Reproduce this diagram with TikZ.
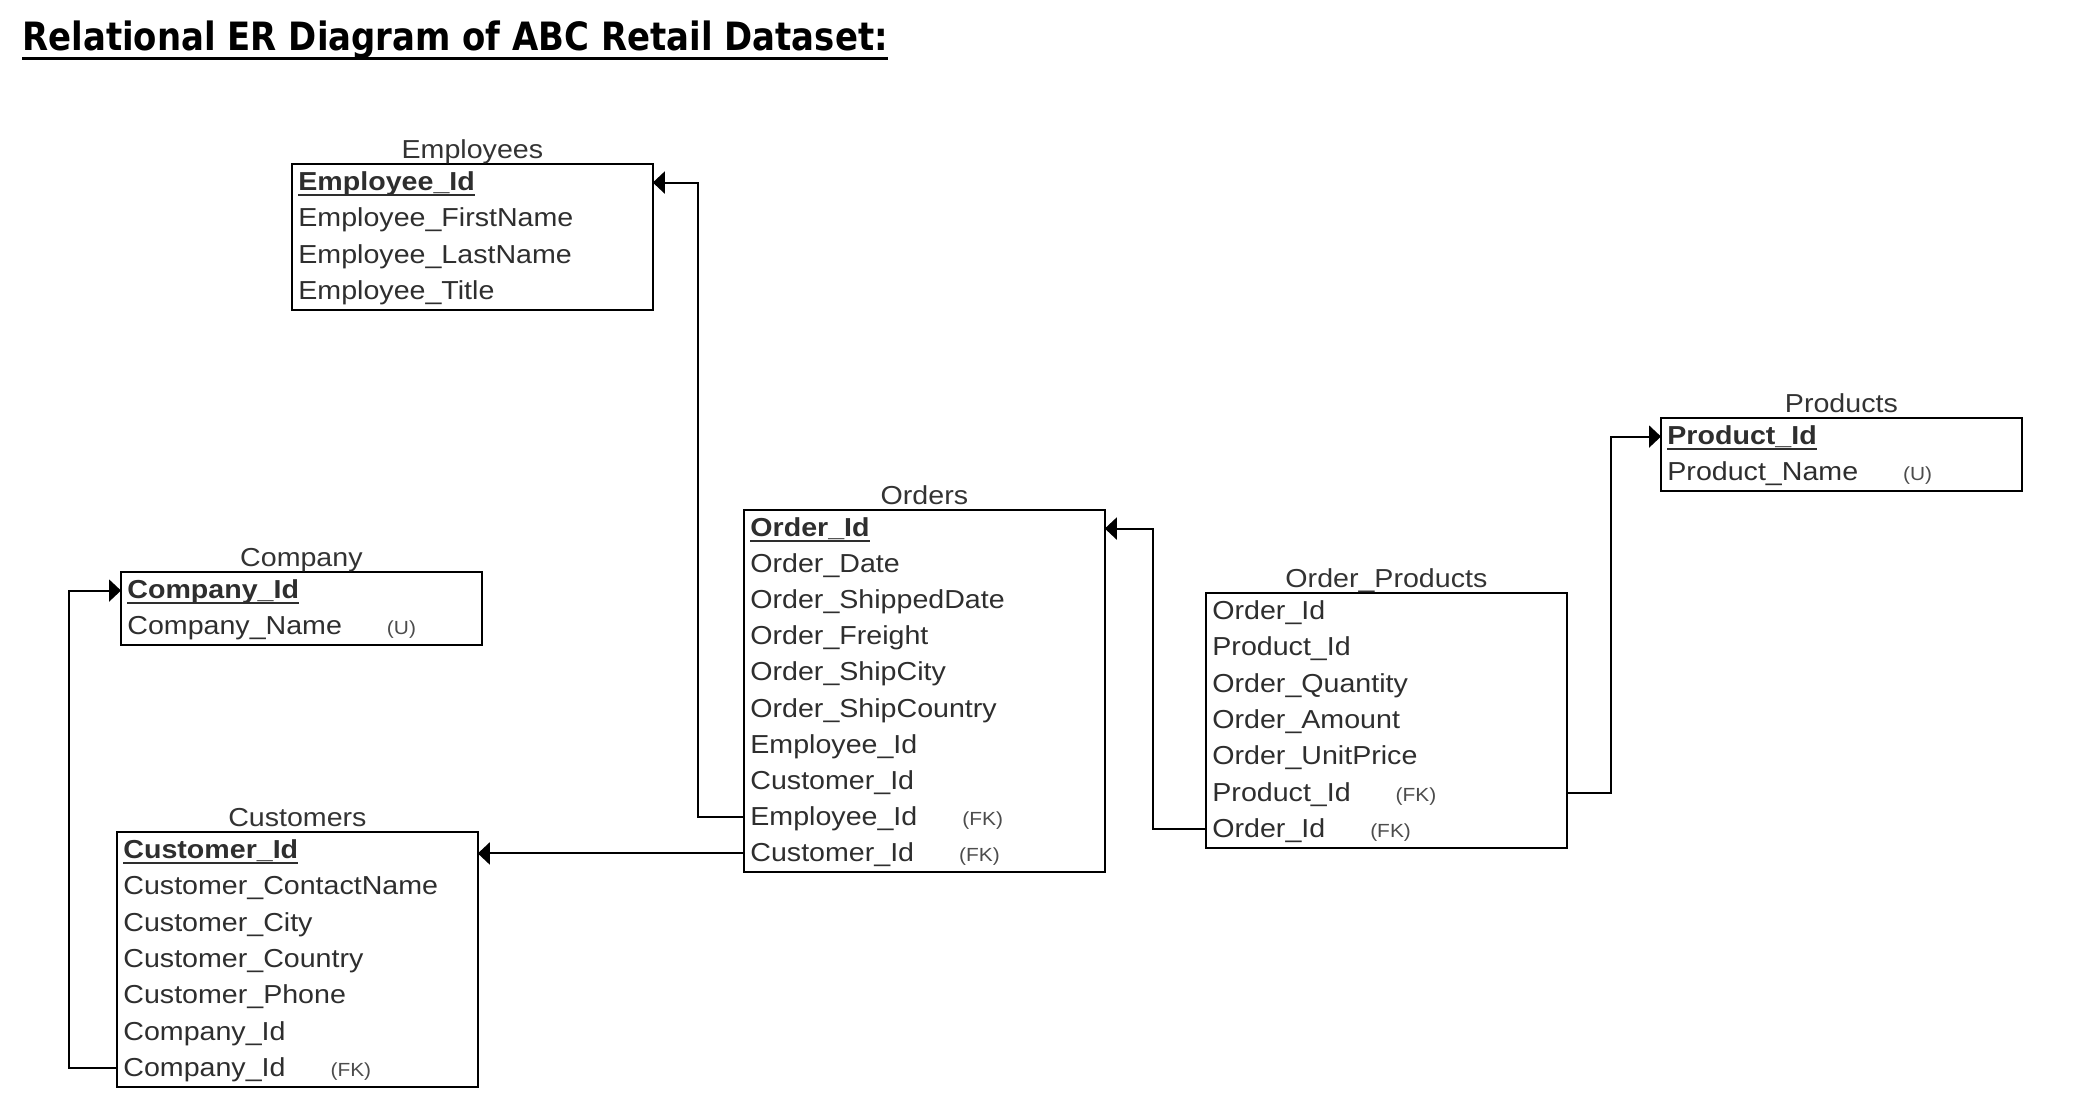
\documentclass[tikz,border=0pt]{standalone}
\usepackage{fontspec}
\setmainfont{Liberation Sans}[FakeStretch=1.1]
\newfontfamily\headfont{DejaVu Sans}[FakeStretch=0.87]
\usetikzlibrary{arrows.meta, positioning}

% primary key: bold and underlined
\newcommand\keyfield[1]{\sbox0{\bfseries #1}\rlap{\rule[-2.6pt]{\wd0}{0.9pt}}\usebox0}
% field with a small (FK) / (U) tag
\newcommand\tagged[2]{#1\hspace{22.5pt}{\fontsize{9.5}{11}\selectfont\color{black!70}(#2)}}

\begin{document}
\begin{tikzpicture}[
  x=0.5pt, y=-0.5pt,
  row/.style={anchor=north west, text width=174pt, inner xsep=3pt, inner ysep=0pt,
    minimum height=18.15pt, text height=10.5pt, text depth=2.5pt, align=left,
    font=\fontsize{13}{15}\selectfont, text=black!82},
  tbl/.style={draw, line width=1pt},
  tabtitle/.style={font=\fontsize{13}{15}\selectfont, text=black!80, inner sep=0pt},
  link/.style={-{Triangle[length=6pt, width=11pt]}, line width=1pt}
]
\useasboundingbox (0,0) rectangle (2078,1108);

% Title
\node (title) [anchor=base west, inner sep=0pt, font=\headfont\bfseries\fontsize{19.5}{22}\selectfont] at (22,50)
  {Relational ER Diagram of ABC Retail Dataset:};
\draw [line width=1.6pt] ([yshift=-4.2pt]title.base west) -- ([yshift=-4.2pt]title.base east);

% Employees
\foreach \f [count=\i] in {\keyfield{Employee\_Id}, Employee\_FirstName, Employee\_LastName, Employee\_Title}
  \node (emp\i) [row] at (292, {164+(\i-1)*36.3}) {\f};
\draw [tbl] (emp1.north west) rectangle (emp4.south east);
\node (empT) [tabtitle, above=3pt of emp1.north, anchor=base] {Employees};

% Company
\foreach \f [count=\i] in {\keyfield{Company\_Id}, \tagged{Company\_Name}{U}}
  \node (com\i) [row] at (121, {572+(\i-1)*36.3}) {\f};
\draw [tbl] (com1.north west) rectangle (com2.south east);
\node (comT) [tabtitle, above=3pt of com1.north, anchor=base] {Company};

% Customers
\foreach \f [count=\i] in {\keyfield{Customer\_Id}, Customer\_ContactName, Customer\_City, Customer\_Country,
    Customer\_Phone, Company\_Id, \tagged{Company\_Id}{FK}}
  \node (cus\i) [row] at (117, {832+(\i-1)*36.3}) {\f};
\draw [tbl] (cus1.north west) rectangle (cus7.south east);
\node (cusT) [tabtitle, above=3pt of cus1.north, anchor=base] {Customers};

% Orders
\foreach \f [count=\i] in {\keyfield{Order\_Id}, Order\_Date, Order\_ShippedDate, Order\_Freight, Order\_ShipCity,
    Order\_ShipCountry, Employee\_Id, Customer\_Id, \tagged{Employee\_Id}{FK}, \tagged{Customer\_Id}{FK}}
  \node (ord\i) [row] at (744, {510+(\i-1)*36.1}) {\f};
\draw [tbl] (ord1.north west) rectangle (ord10.south east);
\node (ordT) [tabtitle, above=3pt of ord1.north, anchor=base] {Orders};

% Order_Products
\foreach \f [count=\i] in {Order\_Id, Product\_Id, Order\_Quantity, Order\_Amount, Order\_UnitPrice,
    \tagged{Product\_Id}{FK}, \tagged{Order\_Id}{FK}}
  \node (op\i) [row] at (1206, {593+(\i-1)*36.3}) {\f};
\draw [tbl] (op1.north west) rectangle (op7.south east);
\node (opT) [tabtitle, above=3pt of op1.north, anchor=base] {Order\_Products};

% Products
\foreach \f [count=\i] in {\keyfield{Product\_Id}, \tagged{Product\_Name}{U}}
  \node (prd\i) [row] at (1661, {418+(\i-1)*36.3}) {\f};
\draw [tbl] (prd1.north west) rectangle (prd2.south east);
\node (prdT) [tabtitle, above=3pt of prd1.north, anchor=base] {Products};

% Relations
\draw [link] (ord9.west) -- ++(-46,0) |- (emp1.east);
\draw [link] (ord10.west) -- (ord10.west -| cus1.east);
\draw [link] (op7.west) -- ++(-53,0) |- (ord1.east);
\draw [link] (op6.east) -- ++(44,0) |- (prd1.west);
\draw [link] (cus7.west) -- ++(-48,0) |- (com1.west);

\end{tikzpicture}
\end{document}
